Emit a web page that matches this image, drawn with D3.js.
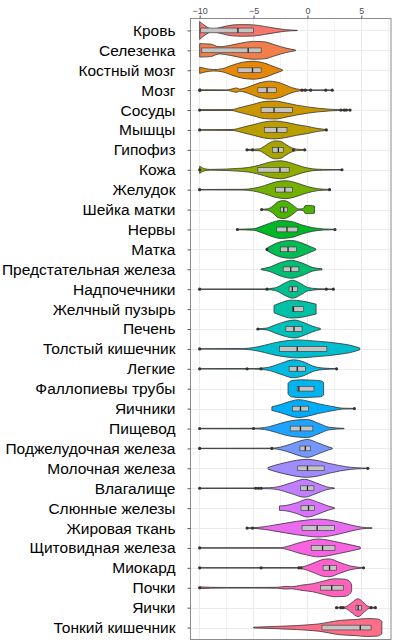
<!DOCTYPE html>
<head>
<meta charset="utf-8">
<script src="https://cdn.jsdelivr.net/npm/d3@7"></script>
<style>
body { margin: 0; background: #fff; font-family: "Liberation Sans", Arial, sans-serif; }
.grid line { stroke: #ebebeb; shape-rendering: crispEdges; }
.violin { stroke: #333; stroke-width: 0.8; }
.box { fill: #c4c4c4; stroke: #333; stroke-width: 0.6; }
.median { stroke: #222; stroke-width: 1.3; }
.pt { fill: #333; }
</style>
<body>
<div id="chart"></div>
<script>

// tissue names, top to bottom
var categories = ["Кровь", "Селезенка", "Костный мозг", "Мозг", "Сосуды", "Мышцы", "Гипофиз",
  "Кожа", "Желудок", "Шейка матки", "Нервы", "Матка", "Предстательная железа", "Надпочечники",
  "Желчный пузырь", "Печень", "Толстый кишечник", "Легкие", "Фаллопиевы трубы", "Яичники",
  "Пищевод", "Поджелудочная железа", "Молочная железа", "Влагалище", "Слюнные железы",
  "Жировая ткань", "Щитовидная железа", "Миокард", "Почки", "Яички", "Тонкий кишечник"];

// box stats
var q1s     = [-9.9, -9.8, -6.45, -4.6, -4.3, -4.0, -3.25, -4.6, -2.95, -2.5, -2.85, -2.5, -2.25, -1.7, -1.4, -2.0, -2.6, -1.7, -0.95, -1.4, -1.6, -0.7, -0.9, -0.65, -0.6, -0.5, 0.35, 1.45, 1.2, 4.5, 1.35];
var medians = [-6.45, -5.5, -5.1, -3.75, -3.1, -2.85, -2.7, -2.55, -2.1, -2.2, -1.9, -1.8, -1.55, -1.4, -1.3, -1.25, -0.95, -0.95, -0.8, -0.65, -0.65, -0.2, 0.0, 0.0, 0.1, 0.9, 1.4, 2.05, 2.25, 4.7, 4.9];
var q3s     = [-5.0, -4.3, -4.3, -2.9, -1.4, -1.9, -2.25, -1.7, -1.4, -1.85, -0.9, -1.0, -0.8, -0.9, -0.35, -0.5, 1.8, -0.2, 0.6, 0.1, 0.5, 0.3, 1.55, 0.6, 0.65, 2.5, 2.55, 2.7, 3.35, 5.0, 5.9];

// outlier points
var outliers = [
  [], [], [],
  [-10, -0.5, -0.2, 0.3, 1.7, 2.3],
  [-10, 3.1, 3.4, 3.6, 3.95],
  [-10, 1.75],
  [-5.6, -5.1, -1.3, -0.25],
  [-10, 3.2],
  [-10, 2.05],
  [-4.25],
  [-6.5, 2.55],
  [-3.75],
  [],
  [-10, -3.75, 1.75, 2.4],
  [],
  [-4.6],
  [-10],
  [-10, -5.6, -4.3, 2.7],
  [],
  [4.35],
  [-10, -5.0],
  [-10, -3.3],
  [5.6],
  [-10, -4.8, -4.55, -4.3],
  [],
  [-5.6, -5.1],
  [-10],
  [-10, -4.3, -0.8, -0.6, 5.2],
  [-10],
  [2.7, 3.1, 3.3, 5.9, 6.3],
  []
];

// violin outlines: [value, relative density]
var densities = [
  [[-10,1],[-9.6,.6],[-8.8,.15],[-8,.35],[-7,.6],[-6,.65],[-5,.62],[-4,.45],[-3,.25],[-2,.08],[-0.95,.02]],
  [[-10,.75],[-9,.7],[-8.2,.4],[-7,.6],[-6,.85],[-5,1],[-4,.95],[-3,.6],[-2,.25],[-1.1,.04]],
  [[-10,.35],[-9.5,.2],[-8.7,.08],[-8,.15],[-7,.55],[-6,.9],[-5,1],[-4,.8],[-3,.35],[-2.3,.04]],
  [[-10,.15],[-9.7,.04],[-7.5,.03],[-6.8,.2],[-6.6,.25],[-6.3,.12],[-5.5,.35],[-4.5,.8],[-3.5,1],[-2.5,.8],[-1.5,.3],[-0.5,.06],[0.5,.03],[2.3,.02]],
  [[-10,.05],[-7,.05],[-6.5,.2],[-5,.65],[-4,.95],[-3,1],[-2,.8],[-1,.55],[0,.35],[1,.2],[2,.1],[3,.04],[3.95,.02]],
  [[-10,.03],[-7,.05],[-6,.3],[-5,.6],[-4,.9],[-3,1],[-2,.85],[-1,.6],[0,.4],[1,.15],[1.8,.04]],
  [[-5.7,.04],[-4.5,.1],[-4,.4],[-3.5,.8],[-3,1],[-2.5,.95],[-2,.6],[-1.5,.25],[-1,.08],[-0.2,.03]],
  [[-10,.4],[-9.5,.1],[-9,.04],[-7.5,.08],[-6.5,.15],[-5.5,.25],[-4.5,.5],[-3.5,.85],[-2.5,1],[-1.5,.75],[-0.5,.35],[0.5,.1],[1.5,.04],[3.2,.02]],
  [[-10,.02],[-6,.04],[-5,.15],[-4,.45],[-3,.85],[-2,1],[-1,.75],[0,.35],[1,.1],[2.05,.03]],
  [[-4.3,.03],[-3.7,.08],[-3.2,.4],[-2.7,.9],[-2.2,1],[-1.7,.8],[-1.2,.35],[-0.8,.06],[-0.4,.1],[-0.2,.45],[0.3,.45],[0.65,.4]],
  [[-6.5,.03],[-5,.08],[-4.5,.25],[-3.5,.7],[-2.5,1],[-1.5,.9],[-0.5,.5],[0.5,.2],[1.5,.06],[2.55,.02]],
  [[-3.8,.1],[-3.3,.45],[-2.5,.85],[-1.5,1],[-0.5,.7],[0.3,.3],[0.75,.08]],
  [[-4.3,.04],[-3.5,.25],[-2.5,.75],[-1.5,1],[-0.5,.7],[0.5,.2],[1.35,.06]],
  [[-10,.02],[-4,.03],[-3,.15],[-2,.75],[-1.4,1],[-0.5,.55],[0,.2],[1,.05],[2.4,.02]],
  [[-3.1,.4],[-2.5,.7],[-1.5,1],[-0.5,.9],[0.3,.7],[0.8,.55]],
  [[-4.6,.03],[-3.8,.1],[-3,.45],[-2,.85],[-1.2,1],[-0.3,.7],[0.5,.3],[1.2,.06]],
  [[-10,.02],[-6,.04],[-5,.15],[-4,.4],[-3,.7],[-2,.9],[-1,1],[0,.95],[1,.85],[2,.75],[3,.6],[4,.4],[4.85,.1]],
  [[-10,.02],[-5,.03],[-4.2,.08],[-3.5,.2],[-2.5,.6],[-1.3,1],[-0.3,.75],[0.5,.3],[1.5,.08],[2.7,.02]],
  [[-1.8,.6],[-1.5,.9],[-0.5,1],[0.5,.95],[1.2,.9],[1.5,.7]],
  [[-3.3,.2],[-2.5,.45],[-1.5,.85],[-0.8,1],[0,.85],[1,.55],[2,.3],[2.5,.2],[3.2,.05],[4.35,.02]],
  [[-10,.02],[-5,.03],[-4,.1],[-3,.4],[-2,.75],[-1,.95],[0,1],[1,.6],[2,.15],[3.4,.02]],
  [[-10,.02],[-3.3,.03],[-2.5,.15],[-1.5,.5],[-0.5,.9],[0,1],[1,.6],[2,.15],[2.3,.05]],
  [[-3.65,.1],[-3,.35],[-2,.65],[-1,.9],[0,1],[1,.85],[2,.55],[3,.3],[4,.12],[5,.04],[5.6,.02]],
  [[-10,.02],[-4.8,.03],[-3.5,.06],[-2.8,.15],[-1.5,.6],[-0.3,1],[0.8,.6],[1.8,.15],[2.5,.03]],
  [[-2.6,.25],[-2,.3],[-1,.6],[0,1],[1,.65],[2,.2],[2.5,.05]],
  [[-5.6,.02],[-5,.04],[-4,.15],[-3,.35],[-2,.55],[-1,.75],[0,.9],[1,1],[2,.9],[3,.65],[4,.35],[5,.1],[6,.02]],
  [[-10,.02],[-2.5,.03],[-1.8,.2],[-1,.5],[0,.8],[1,1],[2,.85],[3,.6],[4,.35],[4.9,.1]],
  [[-10,.02],[-1,.03],[-0.5,.1],[0.5,.5],[1.5,.95],[2,1],[3,.6],[4,.2],[5.2,.02]],
  [[-10,.1],[-9,.05],[-7.5,.03],[-5,.03],[-2.8,.05],[-2,.15],[-1.5,.12],[-0.5,.3],[0.5,.45],[1.5,.75],[2.5,1],[3.5,.95],[4,.6],[4.1,.3]],
  [[2.7,.03],[3.5,.08],[4,.45],[4.7,1],[5.3,.45],[5.7,.1],[6.3,.03]],
  [[-5,.04],[-3,.12],[-1,.22],[0,.3],[1,.4],[2,.6],[3,.8],[4.5,.9],[5.5,1],[6.5,.95],[6.9,.7]]
];

var xTicks = [-10, -5, 0, 5];
var xMinor = [-7.5, -2.5, 2.5, 7.5];

// ggplot2 style hue palette (polar LUV)
function hclLuv(h, c, l) {
  var hr = h * Math.PI / 180, U = c * Math.cos(hr), V = c * Math.sin(hr);
  var Xn = 95.047, Yn = 100, Zn = 108.883;
  var un = 4 * Xn / (Xn + 15 * Yn + 3 * Zn), vn = 9 * Yn / (Xn + 15 * Yn + 3 * Zn);
  var Y = l > 8 ? Yn * Math.pow((l + 16) / 116, 3) : Yn * l / 903.3;
  var u = U / (13 * l) + un, v = V / (13 * l) + vn;
  var X = 9 * Y * u / (4 * v), Z = -X / 3 - 5 * Y + 3 * Y / v;
  X /= 100; Y /= 100; Z /= 100;
  var r = 3.240479 * X - 1.537150 * Y - 0.498535 * Z,
      g = -0.969256 * X + 1.875992 * Y + 0.041556 * Z,
      b = 0.055648 * X - 0.204043 * Y + 1.057311 * Z;
  function gam(t) { t = t > 0.0031308 ? 1.055 * Math.pow(t, 1 / 2.4) - 0.055 : 12.92 * t; return Math.round(Math.max(0, Math.min(1, t)) * 255); }
  return d3.rgb(gam(r), gam(g), gam(b)).formatHex();
}
var n = categories.length;
var colors = categories.map(function(d, i) { return hclLuv(15 + 360 / n * i, 100, 65); });

var width = 399, height = 644;
var panel = {left: 190.5, right: 391, top: 18.5, bottom: 639.5};

var x = d3.scaleLinear().domain([-10.85, 7.75]).range([panel.left, panel.right]);
var y = d3.scalePoint().domain(categories).range([panel.top, panel.bottom]).padding(0.6);
var step = y.step();
var half = 0.45 * step;

var svg = d3.select("#chart").append("svg")
    .attr("width", width)
    .attr("height", height);

// gridlines
var grid = svg.append("g").attr("class", "grid");
grid.selectAll(".minor").data(xMinor.filter(function(v) { return x(v) < panel.right; }))
  .enter().append("line")
    .attr("x1", x).attr("x2", x)
    .attr("y1", panel.top).attr("y2", panel.bottom)
    .style("stroke-width", 0.6);
grid.selectAll(".major").data(xTicks)
  .enter().append("line")
    .attr("x1", x).attr("x2", x)
    .attr("y1", panel.top).attr("y2", panel.bottom)
    .style("stroke-width", 1.1);
grid.selectAll(".hline").data(categories)
  .enter().append("line")
    .attr("x1", panel.left).attr("x2", panel.right)
    .attr("y1", function(d) { return Math.round(y(d)) + 0.5; })
    .attr("y2", function(d) { return Math.round(y(d)) + 0.5; })
    .style("stroke-width", 1);

// violins
var area = d3.area()
    .x(function(d) { return x(d[0]); })
    .curve(d3.curveMonotoneX);

categories.forEach(function(c, i) {
  var cy = y(c);
  svg.append("path")
      .datum(densities[i])
      .attr("class", "violin")
      .attr("fill", colors[i])
      .attr("d", area
        .y0(function(d) { return cy - d[1] * half; })
        .y1(function(d) { return cy + d[1] * half; }));
});

// boxes, medians and outliers
var bh = 0.24 * step;
categories.forEach(function(c, i) {
  var cy = y(c);
  var g = svg.append("g");
  g.append("rect")
      .attr("class", "box")
      .attr("x", x(q1s[i]))
      .attr("y", cy - bh / 2)
      .attr("width", x(q3s[i]) - x(q1s[i]))
      .attr("height", bh);
  g.append("line")
      .attr("class", "median")
      .attr("x1", x(medians[i])).attr("x2", x(medians[i]))
      .attr("y1", cy - bh / 2).attr("y2", cy + bh / 2);
  g.selectAll("circle").data(outliers[i])
    .enter().append("circle")
      .attr("class", "pt")
      .attr("cx", function(d) { return x(d); })
      .attr("cy", cy)
      .attr("r", 1.6);
});

// panel border
svg.append("rect")
    .attr("x", panel.left).attr("y", panel.top)
    .attr("width", panel.right - panel.left)
    .attr("height", panel.bottom - panel.top)
    .attr("fill", "none")
    .attr("stroke", "#8a8a8a")
    .attr("stroke-width", 1);

// top axis
var xAxis = svg.append("g")
    .attr("transform", "translate(0," + panel.top + ")")
    .call(d3.axisTop(x).tickValues(xTicks).tickSize(3).tickPadding(2));
xAxis.select(".domain").remove();
xAxis.selectAll("line").attr("stroke", "#555");
xAxis.selectAll("text").attr("fill", "#4d4d4d").style("font", "9px 'Liberation Sans', Arial");

// left axis
var yAxis = svg.append("g")
    .attr("transform", "translate(" + panel.left + ",0)")
    .call(d3.axisLeft(y).tickSize(3).tickPadding(12));
yAxis.select(".domain").remove();
yAxis.selectAll("line").attr("stroke", "#555");
yAxis.selectAll("text").attr("fill", "#000").style("font", "15.5px 'Liberation Sans', Arial");

</script>
</body>
